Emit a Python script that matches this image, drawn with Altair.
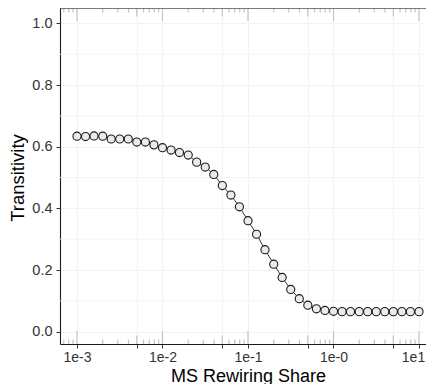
import altair as alt
import pandas as pd

# ---- data ----
share = [0.001, 0.00126, 0.00158, 0.002, 0.00251, 0.00316, 0.00398, 0.00501, 0.00631, 0.00794,
         0.01, 0.0126, 0.0158, 0.02, 0.0251, 0.0316, 0.0398, 0.0501, 0.0631, 0.0794,
         0.1, 0.126, 0.158, 0.2, 0.251, 0.316, 0.398, 0.501, 0.631, 0.794,
         1.0, 1.26, 1.58, 2.0, 2.51, 3.16, 3.98, 5.01, 6.31, 7.94, 10.0]
transitivity = [0.634, 0.633, 0.635, 0.634, 0.625, 0.625, 0.625, 0.615, 0.615, 0.606,
                0.597, 0.589, 0.581, 0.573, 0.550, 0.534, 0.510, 0.474, 0.443, 0.405,
                0.360, 0.316, 0.266, 0.219, 0.176, 0.137, 0.107, 0.086, 0.074, 0.069,
                0.066, 0.065, 0.065, 0.065, 0.065, 0.065, 0.065, 0.065, 0.065, 0.065, 0.065]

x_tick_values = [0.001, 0.005, 0.01, 0.05, 0.1, 0.5, 1, 5, 10]
x_tick_labels = ["1e-3", "", "1e-2", "", "1e-1", "", "1e-0", "", "1e1"]
y_tick_values = [0.0, 0.2, 0.4, 0.6, 0.8, 1.0]
y_minor_grid = [0.1, 0.3, 0.5, 0.7, 0.9]

logtick_long = [0.001, 0.01, 0.1, 1, 10]
logtick_mid = [0.005, 0.05, 0.5, 5]
logtick_short = [0.0007, 0.0008, 0.0009,
                 0.002, 0.003, 0.004, 0.006, 0.007, 0.008, 0.009,
                 0.02, 0.03, 0.04, 0.06, 0.07, 0.08, 0.09,
                 0.2, 0.3, 0.4, 0.6, 0.7, 0.8, 0.9,
                 2, 3, 4, 6, 7, 8, 9]

W, H = 366, 336
FONT = "Liberation Sans"

label_expr = " : ".join(
    f"datum.value == {v} ? '{l}'" for v, l in zip(x_tick_values, x_tick_labels)
) + " : ''"

xscale = alt.Scale(type="log", domain=[10 ** -3.1988, 10 ** 1.0819], nice=False)
yscale = alt.Scale(domain=[-0.04, 1.05], nice=False, zero=False)

x_enc = alt.X(
    "share:Q", scale=xscale,
    axis=alt.Axis(values=x_tick_values, labelExpr=label_expr, title="MS Rewiring Share",
                  grid=True, gridColor="#f0f0f0", gridWidth=0.8,
                  domainColor="#1a1a1a", domainWidth=1.1,
                  tickColor="#333333", tickSize=4, tickWidth=1,
                  labelFont=FONT, labelFontSize=14, labelColor="#333333", labelPadding=2,
                  labelOffset=alt.condition("datum.value == 10", alt.value(-6), alt.value(0)),
                  labelFlush=False, labelOverlap=False,
                  titleFont=FONT, titleFontSize=18, titleFontWeight="normal",
                  titleColor="#000000", titleX=188, titleY=37, titleAlign="center",
                  titleBaseline="alphabetic", titleAnchor="middle"),
)
y_enc = alt.Y(
    "tr:Q", scale=yscale,
    axis=alt.Axis(values=y_tick_values, format=".1f", title="Transitivity",
                  grid=True, gridColor="#f0f0f0", gridWidth=0.8,
                  domainColor="#1a1a1a", domainWidth=1.1,
                  tickColor="#333333", tickSize=4, tickWidth=1,
                  labelFont=FONT, labelFontSize=14.5, labelColor="#333333", labelPadding=4,
                  labelFlush=False,
                  titleFont=FONT, titleFontSize=18.5, titleFontWeight="normal",
                  titleColor="#000000", titleX=-37, titleY=169.5, titleAngle=270,
                  titleAlign="center", titleBaseline="alphabetic", titleAnchor="middle"),
)

df = pd.DataFrame({"share": share, "tr": transitivity})

minor = alt.Chart(pd.DataFrame({"tr": y_minor_grid})).mark_rule(
    color="#f0f0f0", strokeWidth=0.8
).encode(y=y_enc, x=alt.value(0), x2=alt.value(W))


def logticks(vals, length):
    d = pd.DataFrame({"share": vals})
    bottom = alt.Chart(d).mark_rule(color="#c4c4c4", strokeWidth=1.2).encode(
        x=x_enc, y=alt.value(H), y2=alt.value(H - length))
    top = alt.Chart(d).mark_rule(color="#c4c4c4", strokeWidth=1.2).encode(
        x=x_enc, y=alt.value(0), y2=alt.value(length))
    return [bottom, top]


lt = logticks(logtick_long, 13) + logticks(logtick_mid, 8.5) + logticks(logtick_short, 4.5)

line = alt.Chart(df).mark_line(color="#000000", strokeWidth=0.8).encode(x=x_enc, y=y_enc)
pts = alt.Chart(df).mark_circle(size=66, color="#ebebeb", opacity=1,
                                stroke="#1a1a1a", strokeWidth=1.1).encode(x=x_enc, y=y_enc)

top_border = alt.Chart(pd.DataFrame({"a": [0]})).mark_rule(
    color="#1a1a1a", strokeWidth=1.1
).encode(y=alt.value(0), x=alt.value(0), x2=alt.value(W))

chart = alt.layer(minor, *lt, line, pts, top_border).properties(
    width=W, height=H,
    autosize=alt.AutoSizeParams(type="none"),
    padding={"left": 52, "top": 0, "right": 0, "bottom": 40},
).configure_view(stroke=None).configure(background="white")

chart.save("out.html", embed_options={"renderer": "svg", "actions": False})
